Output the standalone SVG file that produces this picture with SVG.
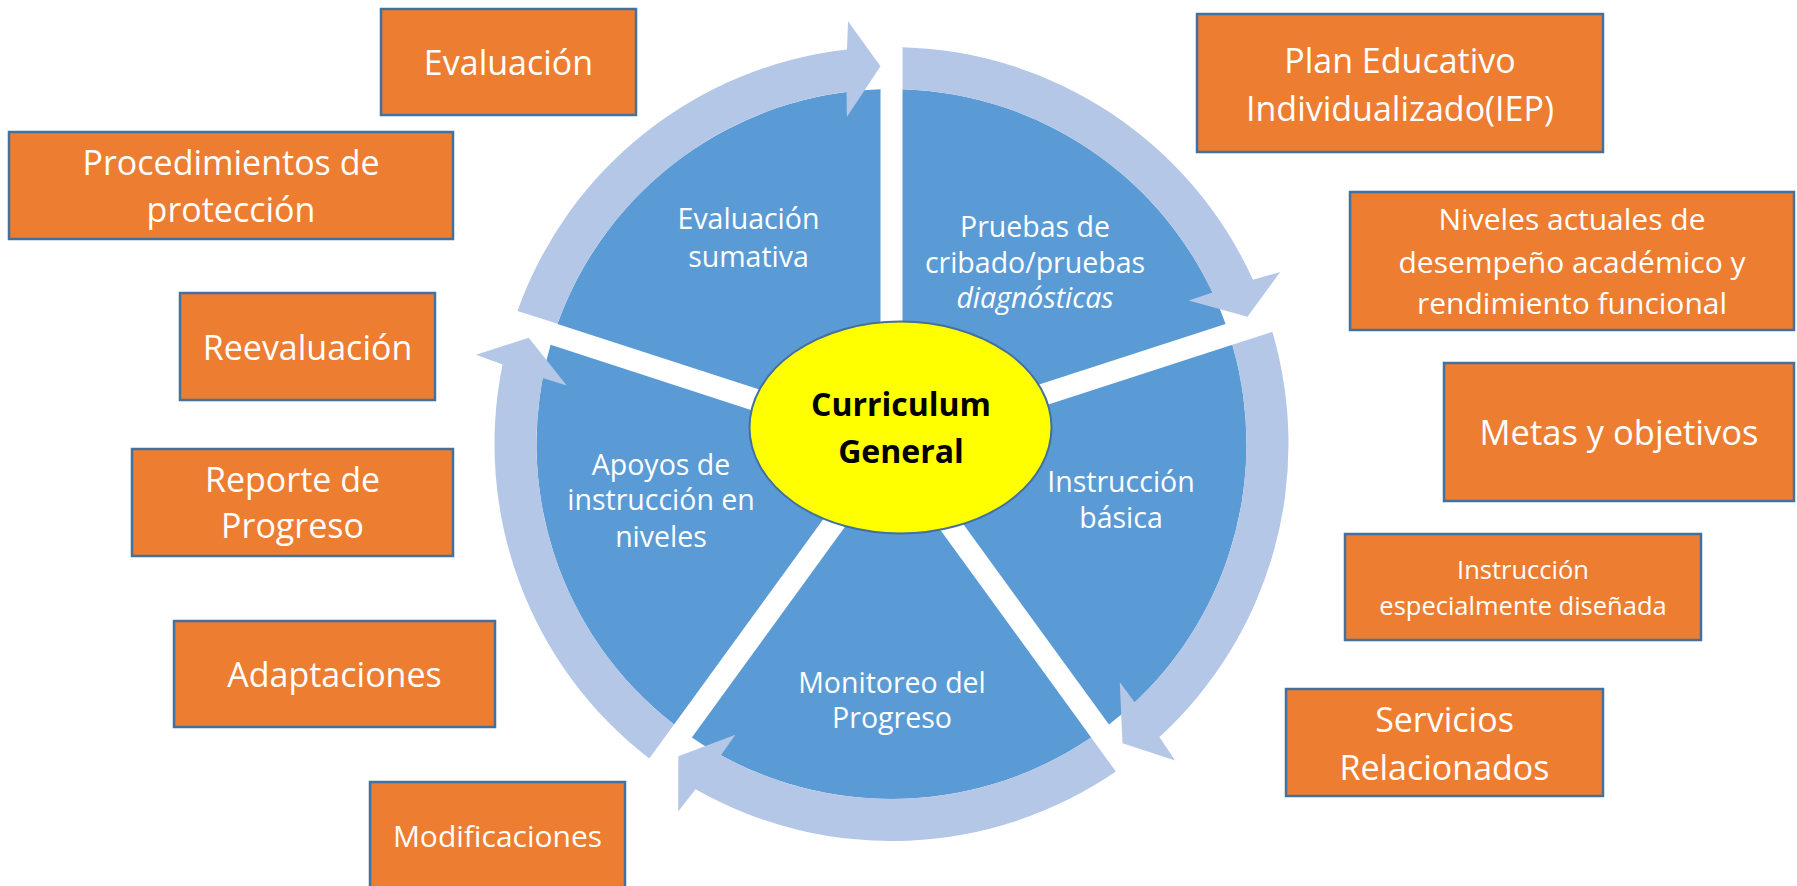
<svg xmlns="http://www.w3.org/2000/svg" xmlns:xlink="http://www.w3.org/1999/xlink" width="1797" height="886" viewBox="0 0 1797 886">
<style>
.box{fill:#ED7D31;stroke:#41719C;stroke-width:2.5}
.bt{font-family:"Open Sans","Noto Sans","DejaVu Sans",sans-serif;fill:#FFFFFF;text-anchor:middle}
.seg{fill:#5B9BD5}
.arr{fill:#B4C7E7}
.st{font-family:"Open Sans","Noto Sans","DejaVu Sans",sans-serif;fill:#FFFFFF;text-anchor:middle;font-size:28.5px}
.ct{font-family:"Open Sans","Noto Sans","DejaVu Sans",sans-serif;fill:#000000;text-anchor:middle;font-size:32px;font-weight:bold}
</style>
<defs>
<path id="sector" d="M 902.49 428.87 L 902.5 89.17 A 355 355 0 0 1 1225.57 323.88 Z"/>
<path id="arrow" d="M 902.52 47.15 A 397 397 0 0 1 1252.95 279.79 L 1280.15 272.01 L 1247.44 316.77 L 1188.68 300.53 L 1212.52 292.45 A 355 355 0 0 0 902.53 89.17 Z"/>
</defs>
<rect width="1797" height="886" fill="#FFFFFF"/>

<g id="seg-pruebas">
<use xlink:href="#sector" href="#sector" class="seg"/>
<text class="st"><tspan x="1035" y="237">Pruebas de</tspan><tspan x="1035" y="273">cribado/pruebas</tspan><tspan x="1035" y="308" font-style="italic">diagnósticas</tspan></text>
</g>
<g id="seg-instruccion-basica">
<use xlink:href="#sector" href="#sector" class="seg" transform="rotate(72 891.5 444)"/>
<text class="st"><tspan x="1121" y="492">Instrucción</tspan><tspan x="1121" y="528">básica</tspan></text>
</g>
<g id="seg-monitoreo">
<use xlink:href="#sector" href="#sector" class="seg" transform="rotate(144 891.5 444)"/>
<text class="st"><tspan x="892" y="693">Monitoreo del</tspan><tspan x="892" y="728">Progreso</tspan></text>
</g>
<g id="seg-apoyos">
<use xlink:href="#sector" href="#sector" class="seg" transform="rotate(216 891.5 444)"/>
<text class="st"><tspan x="661" y="475">Apoyos de</tspan><tspan x="661" y="510">instrucción en</tspan><tspan x="661" y="547">niveles</tspan></text>
</g>
<g id="seg-evaluacion-sumativa">
<use xlink:href="#sector" href="#sector" class="seg" transform="rotate(288 891.5 444)"/>
<text class="st"><tspan x="748.5" y="229">Evaluación</tspan><tspan x="748.5" y="267">sumativa</tspan></text>
</g>

<g id="connectors">
<use xlink:href="#arrow" href="#arrow" class="arr"/>
<use xlink:href="#arrow" href="#arrow" class="arr" transform="rotate(72 891.5 444)"/>
<use xlink:href="#arrow" href="#arrow" class="arr" transform="rotate(144 891.5 444)"/>
<use xlink:href="#arrow" href="#arrow" class="arr" transform="rotate(216 891.5 444)"/>
<use xlink:href="#arrow" href="#arrow" class="arr" transform="rotate(288 891.5 444)"/>
</g>

<g id="center">
<ellipse cx="900.5" cy="427.5" rx="151" ry="106" fill="#FFFF00" stroke="#41719C" stroke-width="2"/>
<text class="ct"><tspan x="901" y="416">Curriculum</tspan><tspan x="901" y="463">General</tspan></text>
</g>

<g id="box-evaluacion">
<rect class="box" x="381" y="9" width="255" height="106"/>
<text class="bt" font-size="34"><tspan x="508.5" y="75">Evaluación</tspan></text>
</g>
<g id="box-procedimientos">
<rect class="box" x="9" y="132" width="444" height="107"/>
<text class="bt" font-size="34"><tspan x="231" y="175">Procedimientos de</tspan><tspan x="231" y="222">protección</tspan></text>
</g>
<g id="box-reevaluacion">
<rect class="box" x="180" y="293" width="255" height="107"/>
<text class="bt" font-size="34"><tspan x="307.5" y="360">Reevaluación</tspan></text>
</g>
<g id="box-reporte">
<rect class="box" x="132" y="449" width="321" height="107"/>
<text class="bt" font-size="34"><tspan x="292.5" y="492">Reporte de</tspan><tspan x="292.5" y="538">Progreso</tspan></text>
</g>
<g id="box-adaptaciones">
<rect class="box" x="174" y="621" width="321" height="106"/>
<text class="bt" font-size="34"><tspan x="334.5" y="687">Adaptaciones</tspan></text>
</g>
<g id="box-modificaciones">
<rect class="box" x="370" y="782" width="255" height="110"/>
<text class="bt" font-size="30"><tspan x="497.5" y="847">Modificaciones</tspan></text>
</g>

<g id="box-iep">
<rect class="box" x="1197" y="14" width="406" height="138"/>
<text class="bt" font-size="34"><tspan x="1400" y="73">Plan Educativo</tspan><tspan x="1400" y="121">Individualizado(IEP)</tspan></text>
</g>
<g id="box-niveles">
<rect class="box" x="1350" y="192" width="444" height="138"/>
<text class="bt" font-size="30"><tspan x="1572" y="230">Niveles actuales de</tspan><tspan x="1572" y="273">desempeño académico y</tspan><tspan x="1572" y="314">rendimiento funcional</tspan></text>
</g>
<g id="box-metas">
<rect class="box" x="1444" y="363" width="350" height="138"/>
<text class="bt" font-size="34.5"><tspan x="1619" y="445">Metas y objetivos</tspan></text>
</g>
<g id="box-instruccion-especial">
<rect class="box" x="1345" y="534" width="356" height="106"/>
<text class="bt" font-size="25.5"><tspan x="1523" y="579">Instrucción</tspan><tspan x="1523" y="615">especialmente diseñada</tspan></text>
</g>
<g id="box-servicios">
<rect class="box" x="1286" y="689" width="317" height="107"/>
<text class="bt" font-size="34"><tspan x="1444.5" y="732">Servicios</tspan><tspan x="1444.5" y="780">Relacionados</tspan></text>
</g>
</svg>
